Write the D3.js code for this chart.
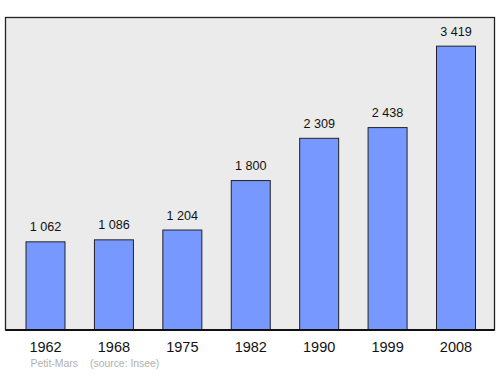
<!DOCTYPE html>
<html>
<head>
<meta charset="utf-8">
<script src="https://cdn.jsdelivr.net/npm/d3@7"></script>
<style>
  body { margin: 0; background: #fff; }
  svg { display: block; font-family: "Liberation Sans", Arial, sans-serif; }
</style>
</head>
<body>
<div id="chart"></div>
<script>
var years = ["1962", "1968", "1975", "1982", "1990", "1999", "2008"];
var population = [1062, 1086, 1204, 1800, 2309, 2438, 3419];
var valueLabels = ["1 062", "1 086", "1 204", "1 800", "2 309", "2 438", "3 419"];
var townName = "Petit-Mars";
var sourceText = "(source: Insee)";

var svgWidth = 500;
var svgHeight = 374;

var frame = { left: 5.5, top: 17.5, right: 494.5, bottom: 330 };

var svg = d3.select("#chart")
  .append("svg")
  .attr("width", svgWidth)
  .attr("height", svgHeight);

var xScale = d3.scaleBand()
  .domain(years)
  .range([11.3, 490.2])
  .paddingInner(0.43)
  .paddingOuter(0.215);

var yScale = d3.scaleLinear()
  .domain([0, 3764])
  .range([frame.bottom, frame.top]);

// plot background
svg.append("rect")
  .attr("x", frame.left)
  .attr("y", frame.top)
  .attr("width", frame.right - frame.left)
  .attr("height", frame.bottom - frame.top)
  .attr("fill", "#ebebeb")
  .attr("stroke", "#222")
  .attr("stroke-width", 1.3);

var data = years.map(function(y, i) {
  return { year: y, value: population[i], label: valueLabels[i] };
});

svg.selectAll(".bar")
  .data(data)
  .enter()
  .append("rect")
  .attr("class", "bar")
  .attr("x", d => xScale(d.year))
  .attr("y", d => yScale(d.value))
  .attr("width", xScale.bandwidth())
  .attr("height", d => yScale(0) - yScale(d.value))
  .attr("fill", "#7799ff")
  .attr("stroke", "#222")
  .attr("stroke-width", 1);

svg.selectAll(".val")
  .data(data)
  .enter()
  .append("text")
  .attr("class", "val")
  .attr("x", d => xScale(d.year) + xScale.bandwidth() / 2)
  .attr("y", d => yScale(d.value) - 10.5)
  .attr("text-anchor", "middle")
  .attr("font-size", 12.6)
  .attr("fill", "#111")
  .text(d => d.label);

// bottom line over the frame
svg.append("line")
  .attr("x1", frame.left)
  .attr("x2", frame.right)
  .attr("y1", frame.bottom)
  .attr("y2", frame.bottom)
  .attr("stroke", "#111")
  .attr("stroke-width", 2);

var xAxis = d3.axisBottom(xScale).tickSize(0).tickPadding(0);
var axisG = svg.append("g")
  .attr("transform", `translate(0, ${frame.bottom})`)
  .call(xAxis);
axisG.select(".domain").remove();
axisG.selectAll("text")
  .attr("font-size", 14.5)
  .attr("font-family", "\"Liberation Sans\", Arial, sans-serif")
  .attr("fill", "#111")
  .attr("dy", 0)
  .attr("y", 22.3);

svg.append("text")
  .attr("x", 30.5)
  .attr("y", 367)
  .attr("font-size", 10.4)
  .attr("fill", "#b0b0b0")
  .text(townName);

svg.append("text")
  .attr("x", 90)
  .attr("y", 367)
  .attr("font-size", 10.4)
  .attr("fill", "#b0b0b0")
  .text(sourceText);
</script>
</body>
</html>
